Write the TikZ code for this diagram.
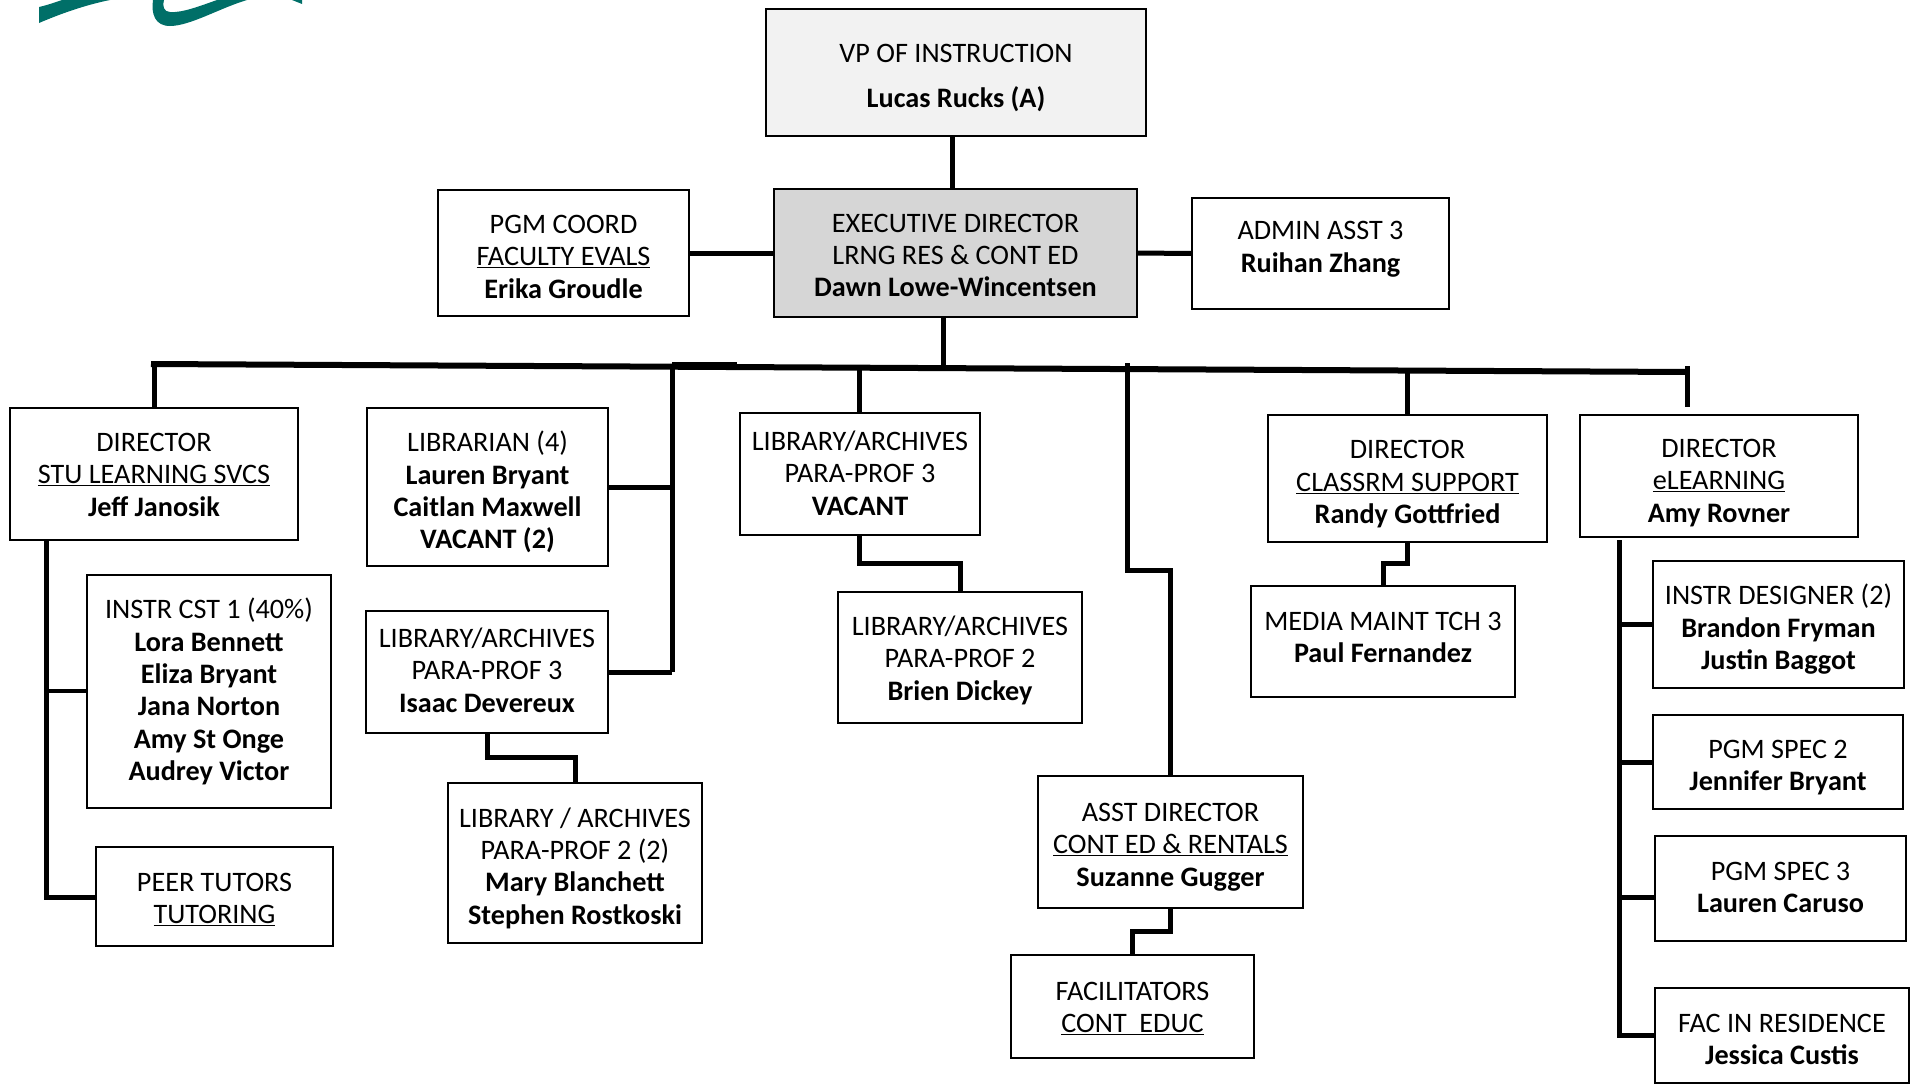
\documentclass[tikz,border=0pt]{standalone}
\usepackage{fontspec}
\setmainfont{Carlito}
\newcommand{\topgap}[1]{\rule{0pt}{#1pt}}
\tikzset{
	box/.style={draw=black, line width=1.6pt, inner sep=0pt, align=center, font=\fontsize{28.2}{32.4}\selectfont},
	txtup/.style={execute at end node={\rule[-#1pt]{0pt}{#1pt}}},
	conn/.style={draw=black, line width=5pt},
	connthin/.style={draw=black, line width=4pt}
}
\definecolor{logoteal}{HTML}{006F68}
\begin{document}
\begin{tikzpicture}[x=1pt, y=-1pt]
	\useasboundingbox (0,0) rectangle (1913,1084);
	% Logo
	\fill[logoteal] (39,7) .. controls (48,5) and (56,2) .. (62,0) -- (110,0) .. controls (85,5) and (60,14) .. (39,23) -- cycle;
	\fill[logoteal] (153,0) .. controls (151,14) and (155,26) .. (170,26) .. controls (190,26) and (220,8) .. (247,0) -- (217,0) .. controls (200,6) and (182,13) .. (170,12) .. controls (164,12) and (162,6) .. (164,0) -- cycle;
	\fill[logoteal] (292,0) -- (302,0) -- (302,4) -- cycle;
	% Nodes
	\node[box, fill=black!5, minimum width=380, minimum height=127] (vp) at (956,72.5) {\topgap{29}VP OF INSTRUCTION\\[13pt]\textbf{Lucas Rucks (A)}};
	\node[box, fill=black!16, minimum width=363, minimum height=128] (exec) at (955.5,253) {\topgap{23}EXECUTIVE DIRECTOR\\LRNG RES \& CONT ED\\\textbf{Dawn Lowe-Wincentsen}};
	\node[box, minimum width=251, minimum height=126] (pgm) at (563.5,253) {\topgap{26}PGM COORD\\\underline{FACULTY EVALS}\\\textbf{Erika Groudle}};
	\node[box, txtup=13.5, minimum width=257, minimum height=111] (admin) at (1320.5,253.5) {ADMIN ASST 3\\\textbf{Ruihan Zhang}};
	\node[box, minimum width=288, minimum height=132] (stu) at (154,474) {\topgap{20}DIRECTOR\\\underline{STU LEARNING SVCS}\\\textbf{Jeff Janosik}};
	\node[box, minimum width=241, minimum height=158] (librarian) at (487.5,487) {\topgap{31}LIBRARIAN (4)\\\textbf{Lauren Bryant}\\\textbf{Caitlan Maxwell}\\\textbf{VACANT (2)}};
	\node[box, txtup=2, minimum width=240, minimum height=122] (para3) at (860,474) {LIBRARY/ARCHIVES\\PARA-PROF 3\\\textbf{VACANT}};
	\node[box, minimum width=279, minimum height=127] (classrm) at (1407.5,478.5) {\topgap{30}DIRECTOR\\\underline{CLASSRM SUPPORT}\\\textbf{Randy Gottfried}};
	\node[box, minimum width=278, minimum height=122] (elearn) at (1719,476) {\topgap{32}DIRECTOR\\\underline{eLEARNING}\\\textbf{Amy Rovner}};
	\node[box, minimum width=244, minimum height=233] (cst) at (209,691.5) {INSTR CST 1 (40\%)\\\textbf{Lora Bennett}\\\textbf{Eliza Bryant}\\\textbf{Jana Norton}\\\textbf{Amy St Onge}\\\textbf{Audrey Victor}};
	\node[box, minimum width=237, minimum height=99] (peer) at (214.5,896.5) {\topgap{24}PEER TUTORS\\\underline{TUTORING}};
	\node[box, txtup=4, minimum width=242, minimum height=122] (isaac) at (487,672) {LIBRARY/ARCHIVES\\PARA-PROF 3\\\textbf{Isaac Devereux}};
	\node[box, minimum width=254, minimum height=160] (para2two) at (575,863) {\topgap{30}LIBRARY / ARCHIVES\\PARA-PROF 2 (2)\\\textbf{Mary Blanchett}\\\textbf{Stephen Rostkoski}};
	\node[box, minimum width=244, minimum height=131] (brien) at (960,657.5) {\topgap{25}LIBRARY/ARCHIVES\\PARA-PROF 2\\\textbf{Brien Dickey}};
	\node[box, txtup=8, minimum width=264, minimum height=111] (media) at (1383,641.5) {MEDIA MAINT TCH 3\\\textbf{Paul Fernandez}};
	\node[box, minimum width=265, minimum height=132] (asst) at (1170.5,842) {\topgap{28}ASST DIRECTOR\\\underline{CONT ED \& RENTALS}\\\textbf{Suzanne Gugger}};
	\node[box, minimum width=243, minimum height=103] (facil) at (1132.5,1006.5) {\topgap{22}FACILITATORS\\\underline{CONT\ \ EDUC}};
	\node[box, minimum width=251, minimum height=127] (design) at (1778.5,624.5) {\topgap{30}INSTR DESIGNER (2)\\\textbf{Brandon Fryman}\\\textbf{Justin Baggot}};
	\node[box, minimum width=250, minimum height=94] (spectwo) at (1778,762) {\topgap{30}PGM SPEC 2\\\textbf{Jennifer Bryant}};
	\node[box, txtup=2, minimum width=251, minimum height=105] (specthree) at (1780.5,888.5) {PGM SPEC 3\\\textbf{Lauren Caruso}};
	\node[box, minimum width=254, minimum height=95] (fac) at (1782,1035.5) {\topgap{26}FAC IN RESIDENCE\\\textbf{Jessica Custis}};
	% Bus and its free ends
	\coordinate (busleft) at (151,364);
	\coordinate (busright) at (1687,372);
	\coordinate (busexec) at (943,368);
	\coordinate (busstu) at (154,363);
	\coordinate (bushub) at (672,364);
	\coordinate (busstub) at (737,364);
	\coordinate (buspara) at (859,367);
	\coordinate (busasst) at (1127,363);
	\coordinate (bendasst) at (1127,570);
	\coordinate (busclass) at (1407,370);
	\coordinate (busel) at (1687,366);
	\coordinate (elend) at (1687,407);
	\coordinate (hubend) at (672,672);
	\coordinate (stuspine) at (46,540);
	\coordinate (stuend) at (46,897);
	\coordinate (stubranch) at (46,691);
	\coordinate (elspine) at (1619,540);
	\coordinate (elend2) at (1619,1035);
	\coordinate (elbranch) at (1619,897);
	% Connectors
	\draw[conn] ([xshift=-4pt]vp.south) -- ([xshift=-3.5pt]exec.north);
	\draw[conn] (pgm.east) -- (exec.west);
	\draw[conn] (exec.east) -- (admin.west);
	\draw[conn, line width=6pt] (busleft) -- (busright);
	\draw[conn] (bushub) -- (busstub);
	\draw[conn] (exec.south -| busexec) -- (busexec);
	\draw[conn] (busstu) -- (stu.north);
	\draw[conn] (bushub) -- (hubend);
	\draw[conn] (librarian.east) -- (librarian.east -| hubend);
	\draw[conn] (isaac.east) -- (hubend);
	\draw[conn] (buspara) -- (buspara |- para3.north);
	\draw[conn] (busasst) -- (bendasst) -| (asst.north);
	\draw[conn] (busclass) -- (busclass |- classrm.north);
	\draw[conn] (busel) -- (elend);
	\draw[conn] (stuspine) -- (stuend) -- (peer.west |- stuend);
	\draw[connthin] (stubranch) -- (cst.west |- stubranch);
	\draw[conn] (elspine) -- (elend2) -- (fac.west |- elend2);
	\draw[conn] (elspine |- design.west) -- (design.west);
	\draw[conn] (elspine |- spectwo.west) -- (spectwo.west);
	\draw[conn] (elbranch) -- (specthree.west |- elbranch);
	\draw[conn] (para3.south -| buspara) |- (brien.north |- 0,563) -- (brien.north);
	\draw[conn] (isaac.south) |- (para2two.north |- 0,757) -- (para2two.north);
	\draw[conn] (classrm.south) |- (media.north |- 0,563) -- (media.north);
	\draw[conn] (asst.south) |- (facil.north |- 0,931) -- (facil.north);
\end{tikzpicture}
\end{document}
